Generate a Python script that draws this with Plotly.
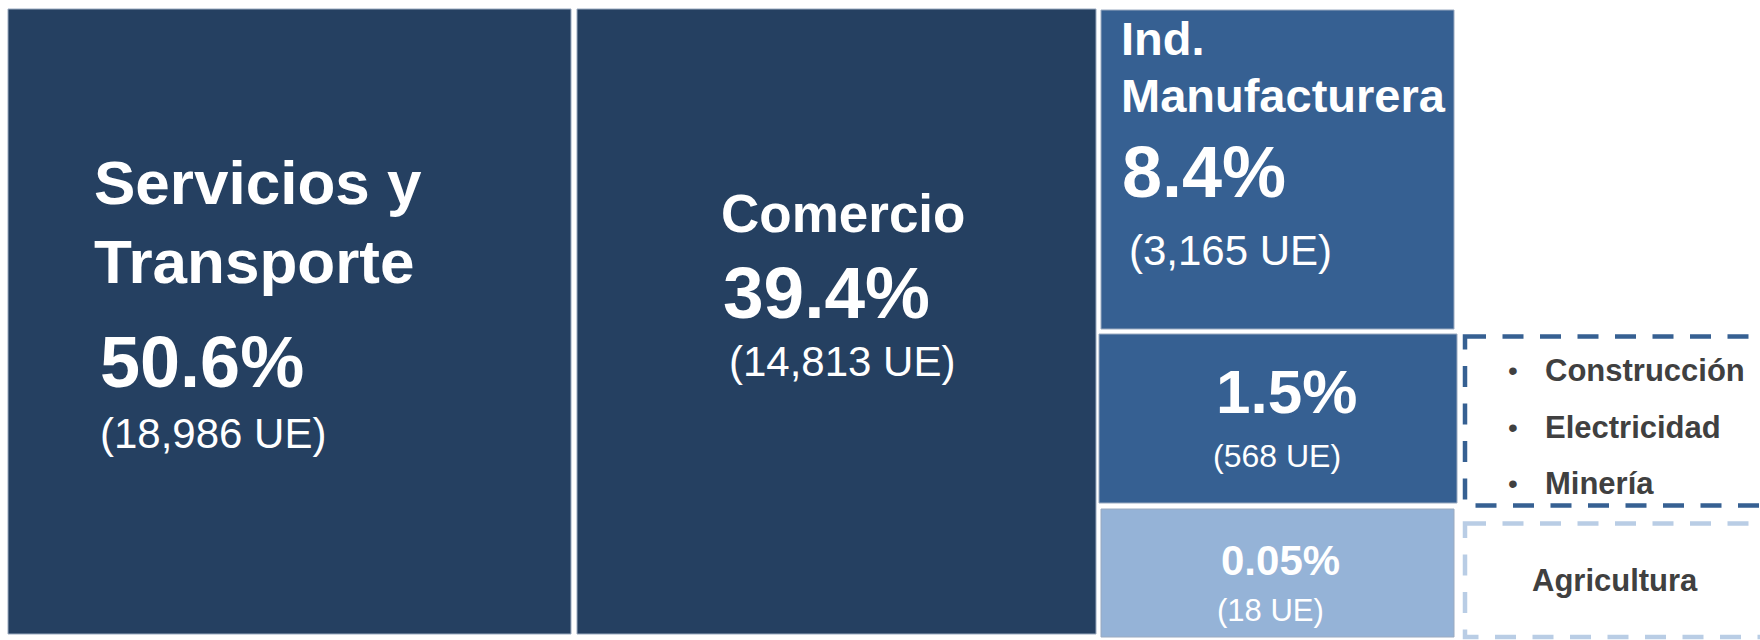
import plotly.graph_objects as go

# ---------------- data ----------------
sectors = ["Servicios y Transporte", "Comercio", "Ind. Manufacturera",
           "Construcción, Electricidad y Minería", "Agricultura"]
title_lines = [["Servicios y", "Transporte"], ["Comercio"], ["Ind.", "Manufacturera"], [], []]
share_pct = [50.6, 39.4, 8.4, 1.5, 0.05]
units_ue = [18986, 14813, 3165, 568, 18]
group_members = [["Construcción", "Electricidad", "Minería"], ["Agricultura"]]

# ---------------- layout / style (pixel coordinates of a 1760x640 canvas) ----------------
W, H = 1760, 640
FONT = "Liberation Sans, Arial, sans-serif"
NAVY, MID, LIGHT, DASH_LIGHT, GRAY = "#254061", "#366092", "#95B3D7", "#B9CDE5", "#404040"

tiles = [
    dict(rect=(8, 9, 571, 634), color=NAVY, anchor="left",
         title_xy=[(92, 182), (92, 261)], title_size=62,
         pct_xy=(98, 362), pct_size=72, ue_xy=(98, 433), ue_size=42),
    dict(rect=(577, 9, 1096, 634), color=NAVY, anchor="left",
         title_xy=[(719, 213)], title_size=53,
         pct_xy=(721, 292), pct_size=73, ue_xy=(727, 361), ue_size=42),
    dict(rect=(1101, 10, 1454, 329), color=MID, anchor="left",
         title_xy=[(1119, 38), (1119, 95)], title_size=47,
         pct_xy=(1120, 172), pct_size=72, ue_xy=(1127, 250), ue_size=42),
    dict(rect=(1099, 334, 1457, 503), color=MID, anchor="center",
         title_xy=[], title_size=0,
         pct_xy=(1286, 391), pct_size=62, ue_xy=(1277, 456), ue_size=32),
    dict(rect=(1101, 509, 1454, 637), color=LIGHT, anchor="center",
         title_xy=[], title_size=0,
         pct_xy=(1280, 560), pct_size=42, ue_xy=(1270, 610), ue_size=31),
]

groups = [
    dict(rect=(1465, 336.5, 1790, 505.5), color=MID, bullets=True,
         text_x=1543, bullet_x=1513, ys=[370, 427, 483]),
    dict(rect=(1465, 523.5, 1790, 637), color=DASH_LIGHT, bullets=False,
         text_x=1530, bullet_x=None, ys=[580]),
]

shapes, annotations = [], []


def ann(text, x, y, size, bold=False, color="white", xanchor="left"):
    annotations.append(dict(
        text=f"<b>{text}</b>" if bold else text, x=x, y=y, xref="x", yref="y",
        xanchor=xanchor, yanchor="middle", showarrow=False,
        font=dict(family=FONT, size=size, color=color)))


for i, t in enumerate(tiles):
    x0, y0, x1, y1 = t["rect"]
    shapes.append(dict(type="rect", xref="x", yref="y", x0=x0, y0=y0, x1=x1, y1=y1,
                       fillcolor=t["color"], line=dict(color="#9AAAC0", width=1), layer="below"))
    xa = t["anchor"]
    for line, (tx, ty) in zip(title_lines[i], t["title_xy"]):
        ann(line, tx, ty, t["title_size"], bold=True, xanchor=xa)
    ann(f"{share_pct[i]:g}%", t["pct_xy"][0], t["pct_xy"][1], t["pct_size"], bold=True, xanchor=xa)
    ann(f"({units_ue[i]:,} UE)", t["ue_xy"][0], t["ue_xy"][1], t["ue_size"], xanchor=xa)

for g, members in zip(groups, group_members):
    x0, y0, x1, y1 = g["rect"]
    shapes.append(dict(type="rect", xref="x", yref="y", x0=x0, y0=y0, x1=x1, y1=y1,
                       fillcolor="rgba(0,0,0,0)",
                       line=dict(color=g["color"], width=4.5, dash="21px,16.5px")))
    for name, y in zip(members, g["ys"]):
        if g["bullets"]:
            ann("•", g["bullet_x"], y, 28, color=GRAY, xanchor="center")
        ann(name, g["text_x"], y, 31, bold=True, color=GRAY)

fig = go.Figure()
fig.update_layout(
    width=W, height=H, margin=dict(l=0, r=0, t=0, b=0, pad=0),
    paper_bgcolor="white", plot_bgcolor="white",
    xaxis=dict(range=[0, W], visible=False, fixedrange=True),
    yaxis=dict(range=[H, 0], visible=False, fixedrange=True),
    shapes=shapes, annotations=annotations, showlegend=False,
)

fig.write_html("out.html", config={"displayModeBar": False},
               post_script="document.body.style.margin='0';document.body.style.overflow='hidden';")
